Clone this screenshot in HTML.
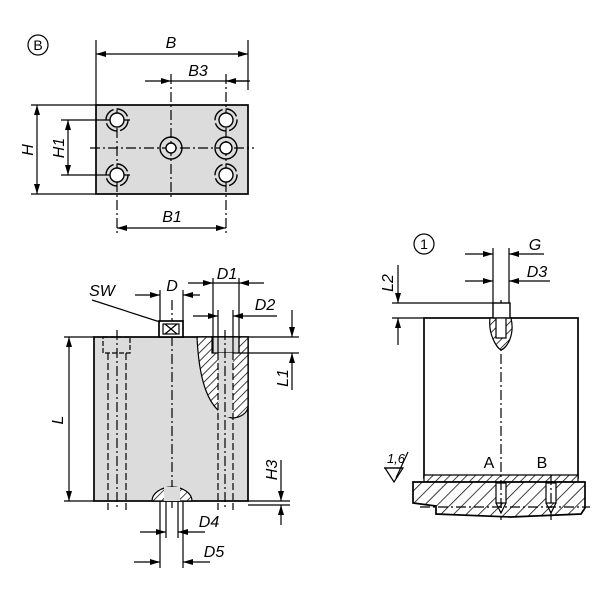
<!DOCTYPE html>
<html><head><meta charset="utf-8"><style>body{margin:0;background:#fff}svg{display:block}text{font-family:"Liberation Sans",sans-serif;font-style:italic;font-size:16px;fill:#000}</style></head><body>
<svg width="600" height="600" viewBox="0 0 600 600" xmlns="http://www.w3.org/2000/svg">
<defs>
<pattern id="h" width="6" height="6" patternUnits="userSpaceOnUse" patternTransform="rotate(45)"><rect width="6" height="6" fill="#fff"/><line x1="0" y1="0" x2="0" y2="6" stroke="#000" stroke-width="1.5"/></pattern>
<pattern id="h2" width="9" height="9" patternUnits="userSpaceOnUse" patternTransform="rotate(45)"><rect width="9" height="9" fill="#fff"/><line x1="0" y1="0" x2="0" y2="9" stroke="#000" stroke-width="1.5"/></pattern>
<marker id="a" viewBox="0 0 10 6" refX="10" refY="3" markerWidth="10" markerHeight="6" orient="auto-start-reverse" markerUnits="userSpaceOnUse"><path d="M0,0L10,3L0,6z" fill="#000"/></marker>
</defs>
<g stroke="#000" fill="none" stroke-width="1.2">
<circle cx="38" cy="45" r="10"/>
<rect x="96" y="105" width="152" height="89" fill="#dcdcdc" stroke-width="1.7"/>
<line x1="96" y1="40" x2="96" y2="105"/><line x1="248" y1="40" x2="248" y2="90"/>
<line x1="96" y1="54" x2="248" y2="54" marker-start="url(#a)" marker-end="url(#a)"/>
<line x1="145" y1="81" x2="171" y2="81" marker-end="url(#a)"/><line x1="171" y1="81" x2="248" y2="81"/>
<path d="M250,81h-24" marker-end="url(#a)"/>
<line x1="171" y1="74" x2="171" y2="200" stroke-dasharray="10,3,2,3"/>
<line x1="226" y1="74" x2="226" y2="235" stroke-dasharray="10,3,2,3"/>
<line x1="117" y1="110" x2="117" y2="235" stroke-dasharray="10,3,2,3"/>
<line x1="90" y1="148" x2="254" y2="148" stroke-dasharray="10,3,2,3"/>
<line x1="31" y1="105" x2="96" y2="105"/><line x1="31" y1="194" x2="96" y2="194"/>
<line x1="37" y1="105" x2="37" y2="194" marker-start="url(#a)" marker-end="url(#a)"/>
<line x1="61" y1="120" x2="130" y2="120"/><line x1="61" y1="175" x2="130" y2="175"/>
<line x1="68" y1="120" x2="68" y2="175" marker-start="url(#a)" marker-end="url(#a)"/>
<line x1="117" y1="228" x2="226" y2="228" marker-start="url(#a)" marker-end="url(#a)"/>
<g stroke-width="1.4">
<circle cx="117" cy="120" r="7" fill="#fff"/><circle cx="117" cy="175" r="7" fill="#fff"/>
<circle cx="226" cy="120" r="7" fill="#fff"/><circle cx="226" cy="175" r="7" fill="#fff"/>
<circle cx="117" cy="120" r="11" stroke-dasharray="14,3"/><circle cx="117" cy="175" r="11" stroke-dasharray="14,3"/>
<circle cx="226" cy="120" r="11" stroke-dasharray="14,3"/><circle cx="226" cy="175" r="11" stroke-dasharray="14,3"/>
<circle cx="171" cy="148" r="11"/><circle cx="171" cy="148" r="5" fill="#fff"/>
<circle cx="226" cy="148" r="11"/><circle cx="226" cy="148" r="6" fill="#fff"/>
</g>
<rect x="94" y="337" width="154" height="164" fill="#dcdcdc" stroke-width="1.7"/>
<path d="M197,337 C199,380 208,412 232,418 C240,418 248,413 248,406 L248,337 Z" fill="url(#h)"/>
<rect x="212" y="337" width="27" height="16" fill="#dcdcdc"/>
<rect x="218" y="353" width="15" height="64" fill="#dcdcdc" stroke="none"/>
<line x1="218" y1="353" x2="218" y2="510" stroke-dasharray="7,3"/><line x1="233" y1="353" x2="233" y2="510" stroke-dasharray="7,3"/>
<line x1="213" y1="278" x2="213" y2="353"/><line x1="239" y1="278" x2="239" y2="353"/>
<line x1="218" y1="310" x2="218" y2="353"/><line x1="233" y1="310" x2="233" y2="353"/>
<line x1="225" y1="330" x2="225" y2="510" stroke-dasharray="10,3,2,3"/>
<rect x="103" y="337" width="27" height="16" stroke-dasharray="5,2"/>
<line x1="108" y1="353" x2="108" y2="510" stroke-dasharray="7,3"/><line x1="126" y1="353" x2="126" y2="510" stroke-dasharray="7,3"/>
<line x1="117" y1="330" x2="117" y2="510" stroke-dasharray="10,3,2,3"/>
<line x1="172" y1="300" x2="172" y2="510" stroke-dasharray="10,3,2,3"/>
<path d="M152,501 A20,14 0 0 1 192,501 Z" fill="url(#h)"/>
<rect x="164" y="487" width="16" height="14" fill="#dcdcdc" stroke="none"/>
<rect x="159" y="321" width="24" height="16" fill="#fff" stroke-width="1.7"/><rect x="163" y="324" width="16" height="10"/>
<path d="M165,324l12,10M177,324l-12,10"/>
<line x1="92" y1="300" x2="160" y2="322"/>
<line x1="160" y1="290" x2="160" y2="321"/><line x1="183" y1="290" x2="183" y2="321"/>
<line x1="135" y1="295" x2="160" y2="295" marker-end="url(#a)"/><line x1="200" y1="295" x2="183" y2="295" marker-end="url(#a)"/>
<line x1="188" y1="283" x2="213" y2="283" marker-end="url(#a)"/><line x1="264" y1="283" x2="239" y2="283" marker-end="url(#a)"/><line x1="213" y1="283" x2="239" y2="283"/>
<line x1="193" y1="316" x2="218" y2="316" marker-end="url(#a)"/><line x1="277" y1="316" x2="233" y2="316" marker-end="url(#a)"/>
<line x1="248" y1="337" x2="299" y2="337"/><line x1="239" y1="353" x2="299" y2="353"/>
<line x1="292" y1="310" x2="292" y2="337" marker-end="url(#a)"/><line x1="292" y1="390" x2="292" y2="353" marker-end="url(#a)"/>
<line x1="64" y1="337" x2="94" y2="337"/><line x1="64" y1="501" x2="94" y2="501"/>
<line x1="69" y1="337" x2="69" y2="501" marker-start="url(#a)" marker-end="url(#a)"/>
<line x1="248" y1="501" x2="290" y2="501"/><line x1="248" y1="505" x2="290" y2="505"/>
<line x1="281" y1="460" x2="281" y2="501" marker-end="url(#a)"/><line x1="281" y1="525" x2="281" y2="505" marker-end="url(#a)"/>
<line x1="166" y1="501" x2="166" y2="538"/><line x1="178" y1="501" x2="178" y2="538"/>
<line x1="160" y1="501" x2="160" y2="568"/><line x1="183" y1="501" x2="183" y2="568"/>
<line x1="140" y1="532" x2="166" y2="532" marker-end="url(#a)"/><line x1="205" y1="532" x2="178" y2="532" marker-end="url(#a)"/>
<line x1="134" y1="562" x2="160" y2="562" marker-end="url(#a)"/><line x1="210" y1="562" x2="183" y2="562" marker-end="url(#a)"/>
<circle cx="424" cy="244" r="10"/>
<rect x="424" y="318" width="154" height="160" fill="#fff" stroke-width="1.7"/>
<path d="M424,475h154v7h-154z" fill="url(#h)"/>
<path d="M413,482h172v26l-4,6l-70,3l-75,-3v-8l-23,-3z" fill="url(#h2)" stroke-width="1.7"/>
<rect x="496" y="483" width="10" height="20" fill="#fff"/><path d="M496,503l5,10l5,-10"/>
<rect x="546" y="483" width="10" height="20" fill="#fff"/><path d="M546,503l5,10l5,-10"/>
<line x1="420" y1="507" x2="590" y2="507" stroke-dasharray="10,3,2,3"/>
<line x1="501" y1="300" x2="501" y2="520" stroke-dasharray="10,3,2,3"/>
<line x1="551" y1="475" x2="551" y2="520" stroke-dasharray="10,3,2,3"/>
<path d="M490,318 C488,335 497,348 501,350 C507,348 515,335 511,318 Z" fill="url(#h)"/>
<rect x="493" y="303" width="17" height="15" fill="#fff" stroke-width="1.4"/>
<rect x="496" y="318" width="10" height="20" fill="#fff"/>
<line x1="493" y1="248" x2="493" y2="303"/><line x1="509" y1="248" x2="509" y2="303"/>
<line x1="465" y1="254" x2="493" y2="254" marker-end="url(#a)"/><line x1="544" y1="254" x2="509" y2="254" marker-end="url(#a)"/>
<line x1="465" y1="281" x2="493" y2="281" marker-end="url(#a)"/><line x1="550" y1="281" x2="509" y2="281" marker-end="url(#a)"/>
<line x1="392" y1="303" x2="493" y2="303"/><line x1="392" y1="318" x2="424" y2="318"/>
<line x1="398" y1="265" x2="398" y2="303" marker-end="url(#a)"/><line x1="398" y1="345" x2="398" y2="318" marker-end="url(#a)"/>
<path d="M385,468l9,14l9,-14z"/><line x1="396" y1="478" x2="408" y2="452"/><line x1="384" y1="468" x2="403" y2="468"/>
</g>
<text x="171" y="48" text-anchor="middle">B</text>
<text x="198" y="76" text-anchor="middle">B3</text>
<text x="172" y="222" text-anchor="middle">B1</text>
<text transform="translate(33,150) rotate(-90)" text-anchor="middle">H</text>
<text transform="translate(64,148) rotate(-90)" text-anchor="middle">H1</text>
<text x="38" y="50" text-anchor="middle" style="font-style:normal;font-size:14px">B</text>
<text x="102" y="296" text-anchor="middle">SW</text>
<text x="172" y="291" text-anchor="middle">D</text>
<text x="227" y="279" text-anchor="middle">D1</text>
<text x="265" y="310" text-anchor="middle">D2</text>
<text transform="translate(288,378) rotate(-90)" text-anchor="middle">L1</text>
<text transform="translate(63,420) rotate(-90)" text-anchor="middle">L</text>
<text transform="translate(277,470) rotate(-90)" text-anchor="middle">H3</text>
<text x="209" y="527" text-anchor="middle">D4</text>
<text x="214" y="557" text-anchor="middle">D5</text>
<text x="424" y="249" text-anchor="middle" style="font-style:normal;font-size:14px">1</text>
<text x="535" y="250" text-anchor="middle">G</text>
<text x="537" y="277" text-anchor="middle">D3</text>
<text transform="translate(393,283) rotate(-90)" text-anchor="middle">L2</text>
<text x="396" y="463" text-anchor="middle" style="font-size:13px">1,6</text>
<text x="489" y="468" text-anchor="middle" style="font-style:normal">A</text>
<text x="542" y="468" text-anchor="middle" style="font-style:normal">B</text>
</svg>
</body></html>
